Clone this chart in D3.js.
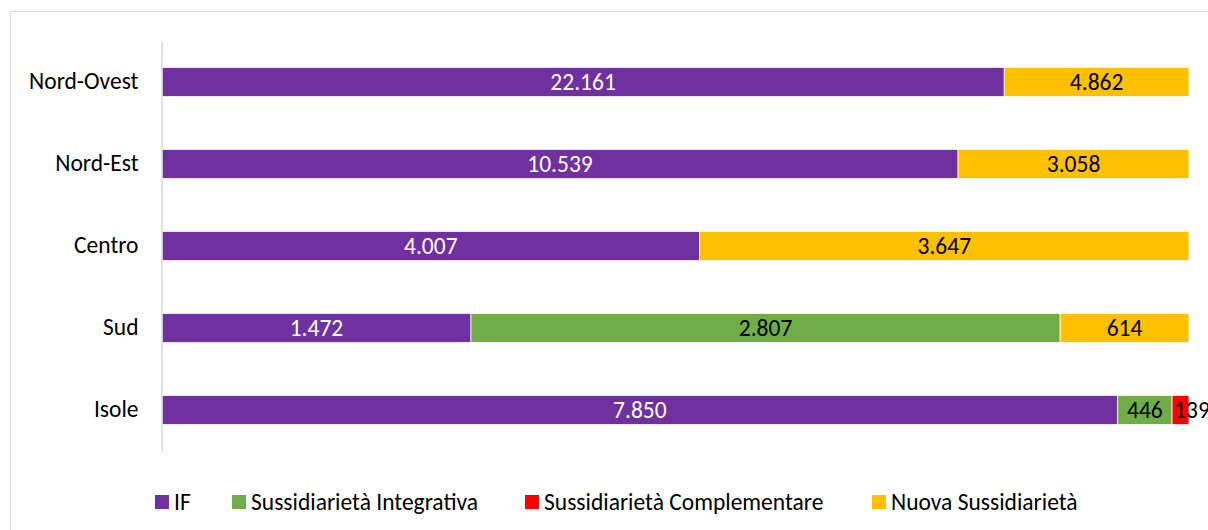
<!DOCTYPE html>
<html><head><meta charset="utf-8">
<script src="https://cdn.jsdelivr.net/npm/d3@7"></script>
<style>body{margin:0;background:#fff}svg{display:block}text{font-family:Carlito,Calibri,Lato,sans-serif}</style>
</head><body>
<svg id="c" width="1208" height="530"></svg>
<script>
const regions = ["Nord-Ovest","Nord-Est","Centro","Sud","Isole"];
const seriesNames = ["IF","Sussidiarietà Integrativa","Sussidiarietà Complementare","Nuova Sussidiarietà"];
const seriesColors = ["#7030A0","#70AD47","#FF0000","#FFC000"];
const labelColors = ["#ffffff","#000000","#000000","#000000"];
const valIF = [22161,10539,4007,1472,7850];
const valSI = [0,0,0,2807,446];
const valSC = [0,0,0,0,139];
const valNS = [4862,3058,3647,614,0];
const seriesValues = [valIF,valSI,valSC,valNS];

const FS = 23.5;
const svg = d3.select("#c");
svg.append("rect").attr("x",10.5).attr("y",11.5).attr("width",1400).attr("height",700)
  .attr("fill","none").attr("stroke","#d9d9d9").attr("stroke-width",1);

const x = d3.scaleLinear().domain([0,1]).range([162,1189]);
const y = d3.scaleBand().domain(regions).range([41,451]).paddingInner(0.646).paddingOuter(0.323);

const rows = regions.map((r,i)=>{
  const o = {region:r};
  seriesNames.forEach((s,j)=>o[s]=seriesValues[j][i]);
  return o;
});
const stack = d3.stack().keys(seriesNames).offset(d3.stackOffsetExpand);
const layers = stack(rows);

const fmt = d3.formatLocale({decimal:",",thousands:".",grouping:[3],currency:["€",""]}).format(",d");

layers.forEach((layer,j)=>{
  const g = svg.append("g");
  layer.forEach((d,i)=>{
    const v = seriesValues[j][i];
    if(!v) return;
    const x0 = x(d[0]), x1 = x(d[1]);
    g.append("rect").attr("x",x0).attr("y",y(regions[i])).attr("width",x1-x0).attr("height",y.bandwidth())
      .attr("fill",seriesColors[j]).attr("stroke","#fff").attr("stroke-width",0.75);
  });
});
layers.forEach((layer,j)=>{
  layer.forEach((d,i)=>{
    const v = seriesValues[j][i];
    if(!v) return;
    const x0 = x(d[0]), x1 = x(d[1]);
    const narrow = (x1-x0) < 30;
    svg.append("text").attr("x", narrow ? x0+2 : (x0+x1)/2).attr("y",y(regions[i])+y.bandwidth()/2)
      .attr("dy","0.34em").attr("text-anchor", narrow ? "start" : "middle")
      .attr("font-size",FS).attr("fill",labelColors[j]).text(fmt(v));
  });
});

// axis
const yAxis = d3.axisLeft(y).tickSize(0).tickPadding(23);
const ga = svg.append("g").attr("transform","translate(161.5,0)").call(yAxis);
ga.select(".domain").attr("stroke","#d9d9d9").attr("stroke-width",1.5);
ga.selectAll("text").attr("font-size",FS).attr("fill","#000").attr("dy","0.3em").attr("font-family","Carlito,Calibri,Lato,sans-serif");

// legend
const legX = [155,232,525,872];
const lg = svg.append("g");
seriesNames.forEach((s,j)=>{
  lg.append("rect").attr("x",legX[j]).attr("y",495).attr("width",14).attr("height",14).attr("fill",seriesColors[j]);
  lg.append("text").attr("x",legX[j]+19).attr("y",502).attr("dy","0.34em").attr("font-size",FS).attr("fill","#000").text(s);
});
</script>
</body></html>
